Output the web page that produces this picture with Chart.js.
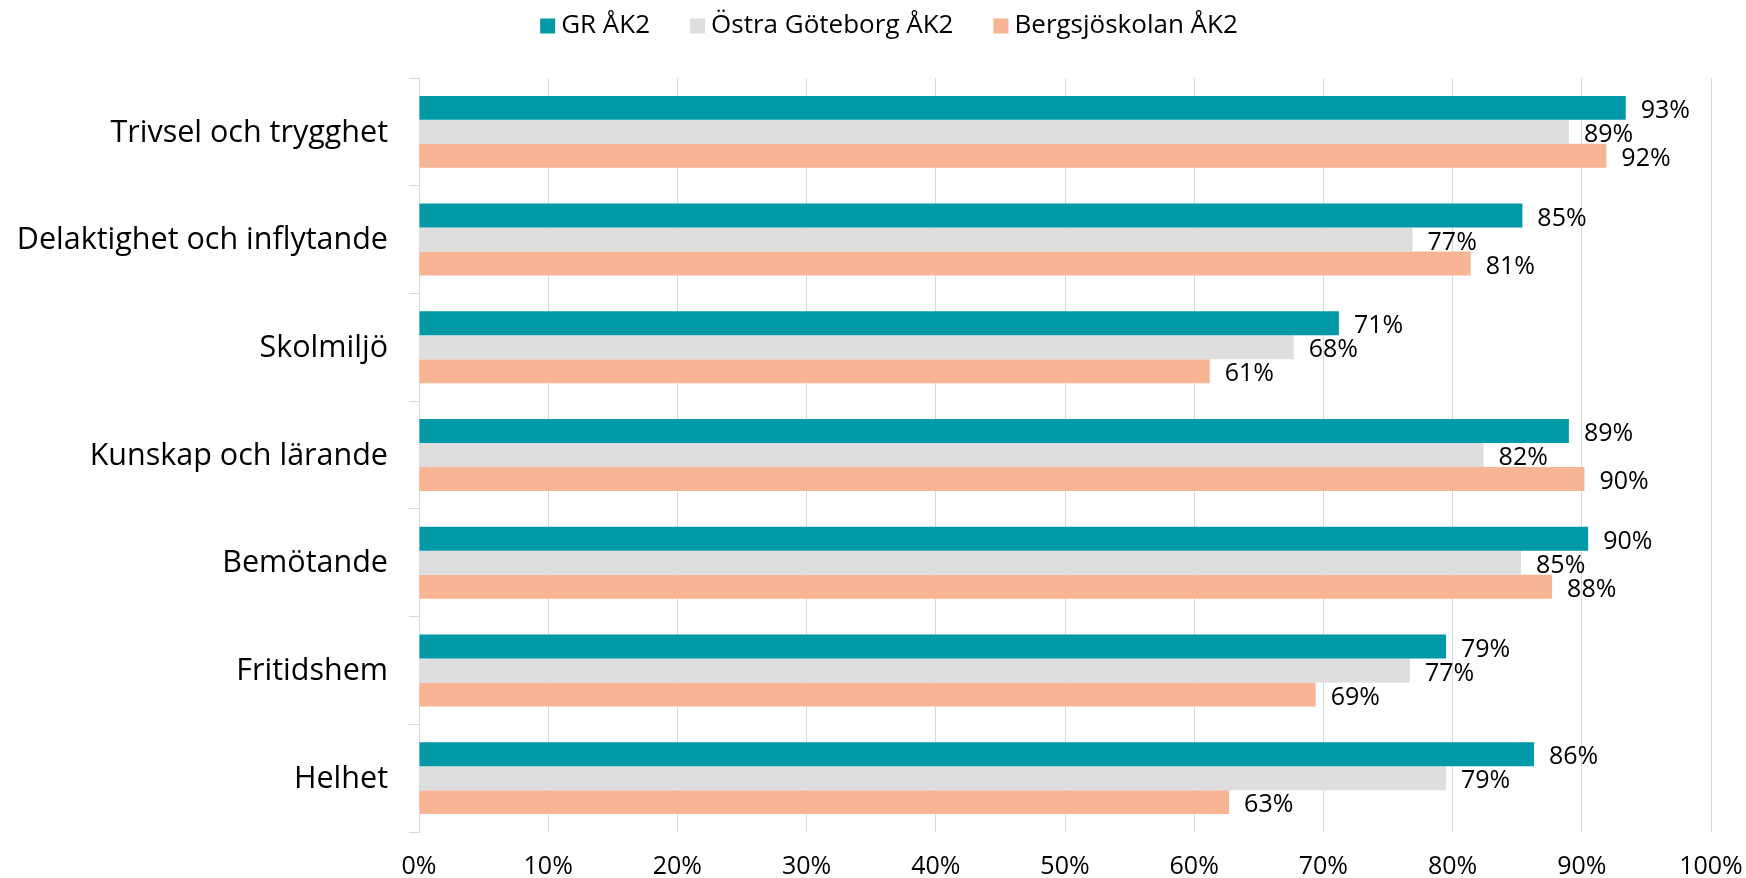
<!DOCTYPE html>
<html>
<head>
<meta charset="utf-8">
<script src="https://cdn.jsdelivr.net/npm/chart.js@4"></script>
<style>
  html, body { margin: 0; padding: 0; background: #ffffff; }
  #wrap { width: 1746px; height: 878px; }
</style>
</head>
<body>
<div id="wrap"><canvas id="c" width="1746" height="878"></canvas></div>
<script>
const categories = ['Trivsel och trygghet', 'Delaktighet och inflytande', 'Skolmiljö', 'Kunskap och lärande', 'Bemötande', 'Fritidshem', 'Helhet'];
const seriesNames = ['GR ÅK2', 'Östra Göteborg ÅK2', 'Bergsjöskolan ÅK2'];
const grValues = [93.4, 85.4, 71.2, 89.0, 90.49, 79.49, 86.3];
const ostraValues = [89.0, 76.9, 67.7, 82.4, 85.3, 76.7, 79.49];
const bergsjoValues = [91.9, 81.4, 61.2, 90.2, 87.7, 69.4, 62.7];
const xTickValues = [0, 10, 20, 30, 40, 50, 60, 70, 80, 90, 100];
const seriesColors = ['#0099A8', '#DEDEDE', '#F8B593'];

const FONT = '"Open Sans", "DejaVu Sans", sans-serif';

const valueLabels = {
  id: 'valueLabels',
  afterDatasetsDraw(chart) {
    const ctx = chart.ctx;
    ctx.save();
    ctx.font = '25px ' + FONT;
    ctx.fillStyle = '#000000';
    ctx.textAlign = 'left';
    ctx.textBaseline = 'middle';
    chart.data.datasets.forEach((ds, di) => {
      const meta = chart.getDatasetMeta(di);
      meta.data.forEach((el, i) => {
        ctx.fillText(Math.round(ds.data[i]) + '%', el.x + 15, el.y + 3);
      });
    });
    ctx.restore();
  }
};

const customLegend = {
  id: 'customLegend',
  afterDraw(chart) {
    const ctx = chart.ctx;
    ctx.save();
    ctx.font = '26px ' + FONT;
    ctx.textBaseline = 'middle';
    ctx.textAlign = 'left';
    const box = 15, gapText = 6, gapItem = 40;
    const items = chart.data.datasets.map(ds => ({ text: ds.label, color: ds.backgroundColor }));
    let total = 0;
    items.forEach((it, i) => {
      it.w = ctx.measureText(it.text).width;
      total += box + gapText + it.w + (i < items.length - 1 ? gapItem : 0);
    });
    let x = 889 - total / 2;
    const cy = 26;
    items.forEach(it => {
      ctx.fillStyle = it.color;
      ctx.fillRect(x, cy - box / 2, box, box);
      ctx.fillStyle = '#000000';
      ctx.fillText(it.text, x + box + gapText, cy);
      x += box + gapText + it.w + gapItem;
    });
    ctx.restore();
  }
};

new Chart(document.getElementById('c'), {
  type: 'bar',
  data: {
    labels: categories,
    datasets: [
      { label: seriesNames[0], data: grValues, backgroundColor: seriesColors[0] },
      { label: seriesNames[1], data: ostraValues, backgroundColor: seriesColors[1] },
      { label: seriesNames[2], data: bergsjoValues, backgroundColor: seriesColors[2] }
    ]
  },
  options: {
    indexAxis: 'y',
    responsive: false,
    animation: false,
    devicePixelRatio: 1,
    categoryPercentage: 0.668,
    barPercentage: 1.0,
    layout: { padding: { top: 78, right: 35, left: 0, bottom: 0 } },
    plugins: {
      legend: { display: false },
      tooltip: { enabled: false }
    },
    scales: {
      x: {
        min: 0,
        max: 100,
        afterBuildTicks(scale) { scale.ticks = xTickValues.map(v => ({ value: v })); },
        afterFit(scale) { scale.height = 46; scale.paddingRight = 0; scale.paddingLeft = 0; },
        ticks: {
          font: { family: FONT, size: 25 },
          color: '#000000',
          padding: 20,
          maxRotation: 0,
          callback: v => v + '%'
        },
        grid: { color: '#D9D9D9', drawTicks: false, lineWidth: 1 },
        border: { display: false }
      },
      y: {
        afterFit(scale) { scale.width = 419; },
        ticks: {
          font: { family: FONT, size: 30.5 },
          color: '#000000',
          padding: 21,
          labelOffset: 1
        },
        grid: { drawOnChartArea: false, color: '#D9D9D9', tickLength: 10, offset: true },
        border: { display: true, color: '#D9D9D9' }
      }
    }
  },
  plugins: [valueLabels, customLegend]
});
</script>
</body>
</html>
